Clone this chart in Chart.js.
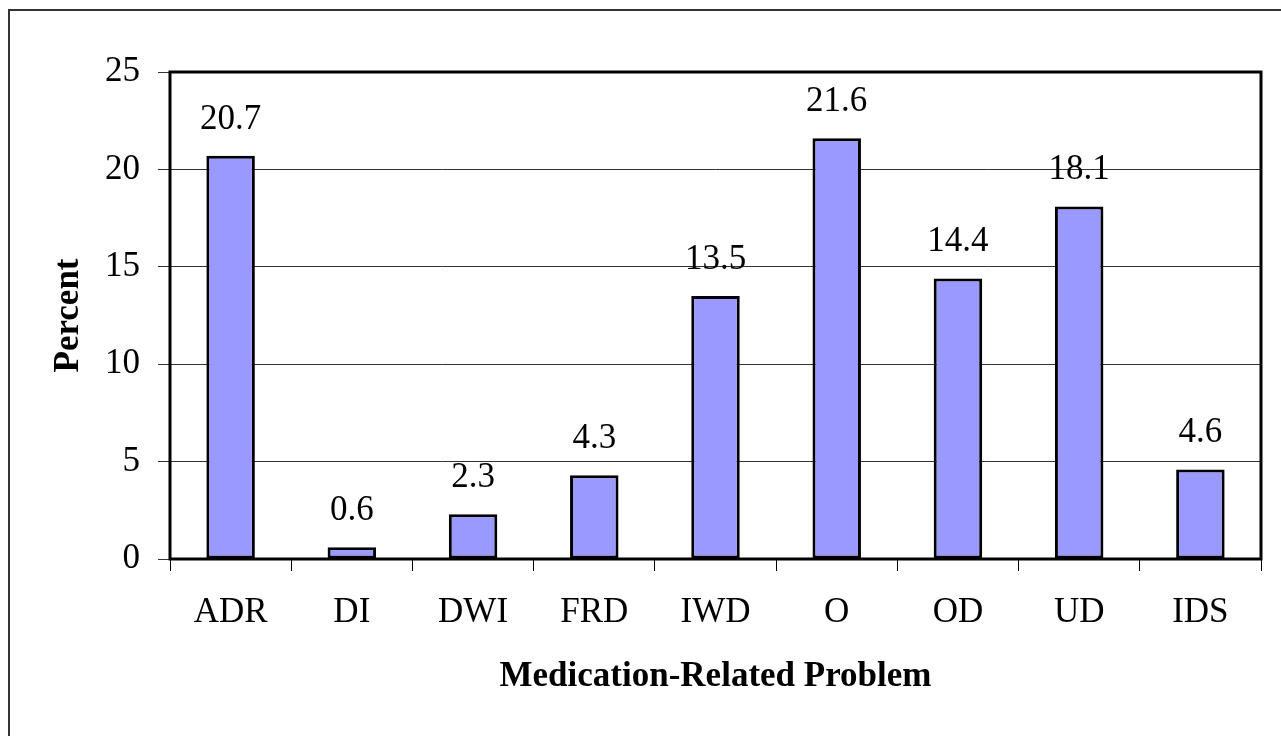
<!DOCTYPE html>
<html>
<head>
<meta charset="utf-8">
<title>Medication-Related Problem</title>
<script src="https://cdn.jsdelivr.net/npm/chart.js"></script>
<style>
  html, body { margin: 0; padding: 0; background: #fff; overflow: hidden; }
  #wrap { position: relative; width: 1281px; height: 736px; }
  #frame { position: absolute; left: 8px; top: 9px; width: 1400px; height: 900px; border: 2px solid #333; }
  canvas { position: absolute; left: 0; top: 0; }
</style>
</head>
<body>
<div id="wrap">
  <div id="frame"></div>
  <canvas id="mrpChart" width="1281" height="736"></canvas>
</div>
<script>
// Data
const categories = ['ADR', 'DI', 'DWI', 'FRD', 'IWD', 'O', 'OD', 'UD', 'IDS'];
const percentValues = [20.7, 0.6, 2.3, 4.3, 13.5, 21.6, 14.4, 18.1, 4.6];
const yTicks = [0, 5, 10, 15, 20, 25];

const serif = "'Liberation Serif', 'Times New Roman', serif";
Chart.defaults.font.family = serif;
Chart.defaults.color = '#000';

// Labels above each bar + the black box around the plot
const barLabels = {
    id: 'barLabels',
    afterDatasetsDraw(chart) {
        const ctx = chart.ctx;
        const area = chart.chartArea;
        ctx.save();
        ctx.strokeStyle = '#000';
        ctx.lineWidth = 3;
        ctx.strokeRect(area.left, area.top, area.right - area.left, area.bottom - area.top);

        ctx.font = '35px ' + serif;
        ctx.fillStyle = '#000';
        ctx.textAlign = 'center';
        ctx.textBaseline = 'alphabetic';
        chart.getDatasetMeta(0).data.forEach((bar, i) => {
            ctx.fillText(percentValues[i].toFixed(1), bar.x, bar.y - 27);
        });
        ctx.restore();
    }
};

new Chart(document.getElementById('mrpChart').getContext('2d'), {
    type: 'bar',
    data: {
        labels: categories,
        datasets: [{
            data: percentValues,
            backgroundColor: '#9999FF',
            borderColor: '#000',
            borderWidth: 3,
            borderSkipped: false,
            barPercentage: 0.4,
            categoryPercentage: 1.0
        }]
    },
    options: {
        responsive: false,
        animation: false,
        layout: { padding: { top: 72, right: 20, left: 0, bottom: 0 } },
        plugins: { legend: { display: false }, tooltip: { enabled: false } },
        scales: {
            x: {
                offset: true,
                afterFit: scale => { scale.height = 177; },
                grid: { offset: true, drawOnChartArea: false, tickLength: 12, tickColor: '#000', lineWidth: 1 },
                border: { display: false },
                ticks: { font: { size: 35 }, color: '#000', padding: 21, maxRotation: 0 },
                title: {
                    display: true,
                    text: 'Medication-Related Problem',
                    font: { size: 35, weight: 'bold' },
                    color: '#000',
                    padding: { top: 0, bottom: 38 }
                }
            },
            y: {
                min: 0,
                max: 25,
                afterFit: scale => { scale.width = 170; },
                afterBuildTicks: scale => { scale.ticks = yTicks.map(v => ({ value: v })); },
                grid: { color: '#333', lineWidth: 1, tickLength: 12, tickColor: '#333' },
                border: { display: false },
                ticks: { font: { size: 35 }, color: '#000', padding: 18 },
                title: {
                    display: true,
                    text: 'Percent',
                    font: { size: 35, weight: 'bold' },
                    color: '#000',
                    padding: { top: 48, bottom: 0 }
                }
            }
        }
    },
    plugins: [barLabels]
});
</script>
</body>
</html>
